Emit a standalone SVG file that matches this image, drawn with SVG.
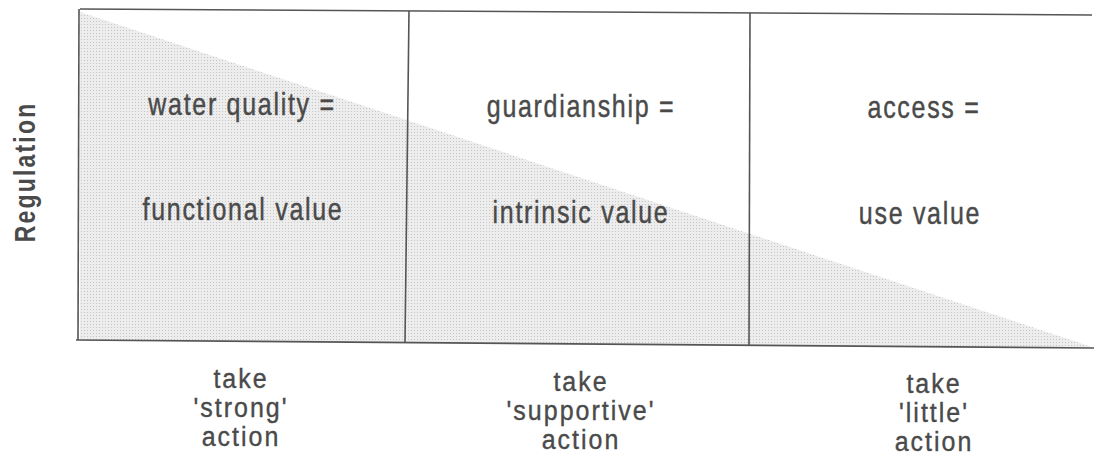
<svg xmlns="http://www.w3.org/2000/svg" width="1094" height="457" viewBox="0 0 1094 457">
<style>
.t{font-family:"Liberation Sans",Arial,sans-serif;font-size:25px;fill:#4a4a4a;stroke:#4a4a4a;stroke-width:0.35;text-anchor:middle;letter-spacing:1.7px}
.b{font-family:"Liberation Sans",Arial,sans-serif;font-size:25px;fill:#4a4a4a;stroke:#4a4a4a;stroke-width:0.35;text-anchor:middle;letter-spacing:2px}
.ln{stroke:#555;stroke-width:1.6;fill:none}
</style>
<defs>
<pattern id="dots" width="3" height="3" patternUnits="userSpaceOnUse">
<rect width="3" height="3" fill="#ededed"/>
<rect width="1" height="1" fill="#c4c4c4"/>
</pattern>
</defs>
<rect width="1094" height="457" fill="#ffffff"/>
<polygon id="shade" points="80,12 1092,347 80,340" fill="url(#dots)"/>
<g id="connectors">
<line class="ln" x1="80" y1="9" x2="1092" y2="15"/>
<line class="ln" x1="76" y1="340" x2="1094" y2="348"/>
<line class="ln" x1="79" y1="9" x2="78" y2="340"/>
<line class="ln" x1="409" y1="11" x2="405" y2="343"/>
<line class="ln" x1="750" y1="13" x2="749" y2="346"/>
</g>
<g id="axis-label">
<text transform="translate(35,172) rotate(-90) scale(1,1.25)" font-family="Liberation Sans,Arial,sans-serif" font-size="23" font-weight="bold" fill="#4a4a4a" text-anchor="middle" letter-spacing="2.2">Regulation</text>
</g>
<g id="cell1">
<text class="t" transform="translate(242,115) scale(1,1.22)">water quality =</text>
<text class="t" transform="translate(243,220) scale(1,1.22)">functional value</text>
</g>
<g id="cell2">
<text class="t" transform="translate(581,117) scale(1,1.22)">guardianship =</text>
<text class="t" transform="translate(581,223) scale(1,1.22)">intrinsic value</text>
</g>
<g id="cell3">
<text class="t" transform="translate(924,118) scale(1,1.22)">access =</text>
<text class="t" transform="translate(920,224) scale(1,1.22)">use value</text>
</g>
<g id="action1">
<text class="b" transform="translate(241,388) scale(1,1.12)">take</text>
<text class="b" transform="translate(241,417) scale(1,1.12)">'strong'</text>
<text class="b" transform="translate(241,446) scale(1,1.12)">action</text>
</g>
<g id="action2">
<text class="b" transform="translate(581,391) scale(1,1.12)">take</text>
<text class="b" transform="translate(581,420) scale(1,1.12)">'supportive'</text>
<text class="b" transform="translate(581,449) scale(1,1.12)">action</text>
</g>
<g id="action3">
<text class="b" transform="translate(934,393) scale(1,1.12)">take</text>
<text class="b" transform="translate(934,422) scale(1,1.12)">'little'</text>
<text class="b" transform="translate(934,451) scale(1,1.12)">action</text>
</g>
</svg>
